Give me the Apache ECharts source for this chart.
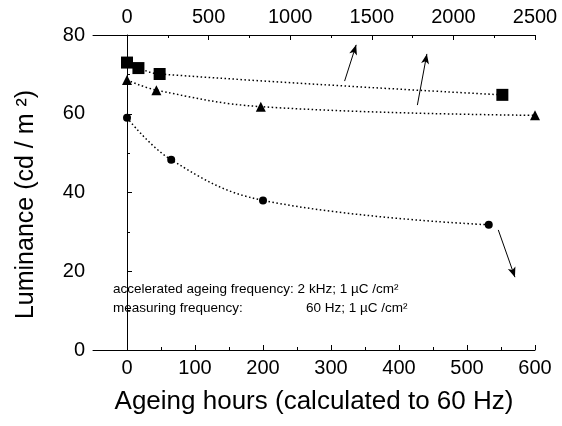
<!DOCTYPE html>
<html><head><meta charset="utf-8">
<script src="https://cdn.jsdelivr.net/npm/echarts@6/dist/echarts.min.js"></script>
<style>html,body{margin:0;padding:0;background:#fff}#c{width:562px;height:426px}</style>
</head><body><div id="c"></div><script>
// Tick values
const bottomTicks = [0, 100, 200, 300, 400, 500, 600];
const bottomMinor = [50, 150, 250, 350, 450, 550];
const topTicks = [0, 500, 1000, 1500, 2000, 2500];
const topMinor = [250, 750, 1250, 1750, 2250];
// Series (squares & triangles: top axis hours; circles: bottom axis hours)
const squareHours = [0, 70, 200, 2300];
const squareLum = [73.0, 71.6, 70.1, 64.8];
const triangleHours = [0, 180, 820, 2500];
const triangleLum = [68.6, 66.0, 61.8, 59.6];
const circleHours = [0, 65, 200, 532];
const circleLum = [59.0, 48.3, 38.0, 31.8];
// Arrows in bottom-axis hours / luminance
const arrowTails = [[320, 68.3], [427, 62.2], [546, 30.5]];
const arrowTips = [[337, 77.5], [441, 75.2], [570.5, 18.5]];
const note1 = 'accelerated ageing frequency: 2 kHz; 1 \u00b5C /cm\u00b2';
const note2a = 'measuring frequency:';
const note2b = '60 Hz; 1 \u00b5C /cm\u00b2';

const F = 'Liberation Sans, Arial, sans-serif';
const chart = echarts.init(document.getElementById('c'), null, {renderer: 'canvas'});
const pair = (xs, ys) => xs.map((x, i) => [x, ys[i]]);
const dotted = {color: '#000', width: 1.5, type: [1.5, 2.5]};
const xMin = -50, xMax = 600, ratio = 2500 / 600;
const plain = v => String(Math.round(v));
chart.setOption({
  animation: false,
  backgroundColor: '#fff',
  grid: {left: 93, right: 27, top: 35, bottom: 76},
  xAxis: [
    {type: 'value', position: 'bottom', min: xMin, max: xMax,
     axisLine: {lineStyle: {color: '#000', width: 1}},
     axisTick: {inside: true, length: 5, customValues: bottomTicks, lineStyle: {color: '#000'}},
     axisLabel: {customValues: bottomTicks, formatter: plain, color: '#000', fontSize: 20, fontFamily: F, margin: 8},
     splitLine: {show: false},
     name: 'Ageing hours (calculated to 60 Hz)', nameLocation: 'middle', nameGap: 39,
     nameTextStyle: {color: '#000', fontSize: 26, fontFamily: F}},
    {type: 'value', position: 'bottom', min: xMin, max: xMax,
     axisLine: {show: false},
     axisTick: {inside: true, length: 3, customValues: bottomMinor, lineStyle: {color: '#000'}},
     axisLabel: {show: false}, splitLine: {show: false}},
    {type: 'value', position: 'top', min: xMin * ratio, max: 2500,
     axisLine: {lineStyle: {color: '#000', width: 1}},
     axisTick: {inside: true, length: 5, customValues: topTicks, lineStyle: {color: '#000'}},
     axisLabel: {customValues: topTicks, formatter: plain, color: '#000', fontSize: 20, fontFamily: F, margin: 8},
     splitLine: {show: false}},
    {type: 'value', position: 'top', min: xMin * ratio, max: 2500,
     axisLine: {show: false},
     axisTick: {inside: true, length: 3, customValues: topMinor, lineStyle: {color: '#000'}},
     axisLabel: {show: false}, splitLine: {show: false}}
  ],
  yAxis: {type: 'value', min: 0, max: 80, interval: 20,
    axisLine: {show: true, lineStyle: {color: '#000', width: 1}},
    axisTick: {show: true, inside: true, length: 5, lineStyle: {color: '#000'}},
    minorTick: {show: true, splitNumber: 2, length: 3, lineStyle: {color: '#000'}},
    axisLabel: {color: '#000', fontSize: 20, fontFamily: F, margin: 8},
    splitLine: {show: false},
    name: 'Luminance (cd / m \u00b2)', nameLocation: 'middle', nameGap: 54,
    nameTextStyle: {color: '#000', fontSize: 25, fontFamily: F, padding: [0, 24, 0, 0]}},
  series: [
    {type: 'line', xAxisIndex: 2, data: pair(squareHours, squareLum), smooth: 0.4,
     symbol: 'rect', symbolSize: 12, itemStyle: {color: '#000'}, lineStyle: dotted},
    {type: 'line', xAxisIndex: 2, data: pair(triangleHours, triangleLum), smooth: 0.4,
     symbol: 'triangle', symbolSize: 10, itemStyle: {color: '#000'}, lineStyle: dotted},
    {type: 'line', xAxisIndex: 0, data: pair(circleHours, circleLum), smooth: 0.4,
     symbol: 'circle', symbolSize: 8, itemStyle: {color: '#000'}, lineStyle: dotted,
     markLine: {silent: true, symbol: ['none', 'arrow'], symbolSize: [6, 10],
       label: {show: false},
       lineStyle: {color: '#000', width: 1, type: 'solid'},
       data: arrowTails.map((t, i) => [{coord: t}, {coord: arrowTips[i]}])}}
  ],
  graphic: [
    {type: 'text', left: 113, top: 282, style: {text: note1, font: '13.5px ' + F, fill: '#000'}},
    {type: 'text', left: 113, top: 301, style: {text: note2a, font: '13.5px ' + F, fill: '#000'}},
    {type: 'text', left: 306, top: 301, style: {text: note2b, font: '13.5px ' + F, fill: '#000'}}
  ]
});
</script></body></html>
